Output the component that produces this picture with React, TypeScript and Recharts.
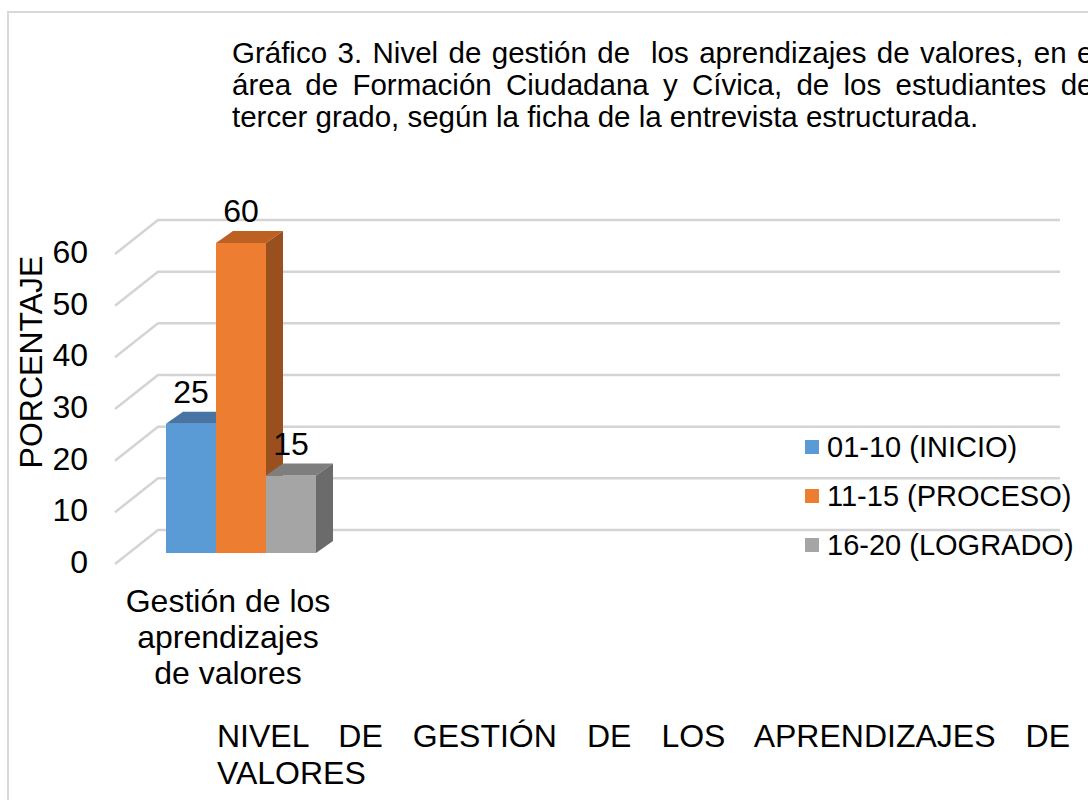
import React from "react";
import { BarChart, Bar, XAxis, YAxis, CartesianGrid, LabelList } from "recharts";

const categories = ["Gestión de los aprendizajes de valores"];
const categoryLines = [["Gestión de los", "aprendizajes", "de valores"]];
const inicioValues = [25];
const procesoValues = [60];
const logradoValues = [15];
const seriesKeys = ["inicio", "proceso", "logrado"];
const seriesNames = ["01-10 (INICIO)", "11-15 (PROCESO)", "16-20 (LOGRADO)"];
const frontColors = ["#5B9BD5", "#ED7D31", "#A5A5A5"];
const topColors = ["#4674A5", "#BC6121", "#7E7E7E"];
const sideColors = ["#3E6A96", "#9A4F1E", "#6B6B6B"];
const yTicks = [0, 10, 20, 30, 40, 50, 60];
const titleLines = [
  "Gráfico 3. Nivel de gestión de  los aprendizajes de valores, en el",
  "área de Formación Ciudadana y Cívica, de los estudiantes del",
  "tercer grado, según la ficha de la entrevista estructurada.",
];
const xTitleLines = ["NIVEL DE GESTIÓN DE LOS APRENDIZAJES DE", "VALORES"];
const yTitle = "PORCENTAJE";

const data = categories.map((name, i) => ({
  name,
  inicio: inicioValues[i],
  proceso: procesoValues[i],
  logrado: logradoValues[i],
}));

const FONT = "'Liberation Sans', Arial, sans-serif";
const DX = 17;
const DY = -12;
const WALL_RIGHT = 1060;
const BIG = 32;

function make3D(si: number) {
  return (props: any) => {
    const { x, y, width, height } = props;
    if (height == null || width == null) return <g />;
    return (
      <g>
        <rect x={x} y={y} width={width} height={height} fill={frontColors[si]} />
        <polygon
          points={`${x},${y} ${x + width},${y} ${x + width + DX},${y + DY} ${x + DX},${y + DY}`}
          fill={topColors[si]}
        />
        <polygon
          points={`${x + width},${y} ${x + width + DX},${y + DY} ${x + width + DX},${y + height + DY} ${x + width},${y + height}`}
          fill={sideColors[si]}
        />
      </g>
    );
  };
}

const GridLine = (props: any) => {
  const { x1, y1 } = props;
  const back = y1 - 23;
  const bx = x1 + 32;
  return (
    <g>
      <polyline
        points={`${x1 - 11},${back + 34} ${bx},${back} ${WALL_RIGHT},${back}`}
        fill="none"
        stroke="#D4D4D4"
        strokeWidth={2.5}
      />
    </g>
  );
};

const YTick = (props: any) => {
  const { x, y, payload } = props;
  return (
    <text x={x - 38} y={y + 20} textAnchor="end" fontSize={BIG} fontFamily={FONT} fill="#000">
      {payload.value}
    </text>
  );
};

const XTick = (props: any) => {
  const { x, y, index } = props;
  const lines = categoryLines[index] || [String(props.payload.value)];
  return (
    <g>
      {lines.map((l, i) => (
        <text
          key={i}
          x={x - 13}
          y={y + 59 + i * 36}
          textAnchor="middle"
          fontSize={BIG}
          fontFamily={FONT}
          fill="#000"
        >
          {l}
        </text>
      ))}
    </g>
  );
};

const ValueLabel = (props: any) => {
  const { x, y, width, value } = props;
  return (
    <text x={x + width / 2} y={y - 21} textAnchor="middle" fontSize={BIG} fontFamily={FONT} fill="#000">
      {value}
    </text>
  );
};

export default function App() {
  return (
    <div
      style={{
        position: "absolute",
        left: 0,
        top: 0,
        width: 1088,
        height: 800,
        overflow: "hidden",
        background: "#fff",
        fontFamily: FONT,
      }}
    >
      <div
        style={{
          position: "absolute",
          left: 7,
          top: 11,
          width: 1100,
          height: 800,
          borderTop: "2px solid #D9D9D9",
          borderLeft: "2px solid #D9D9D9",
        }}
      />
      <div style={{ position: "absolute", left: 0, top: 0 }}>
        <BarChart
          width={1088}
          height={800}
          data={data}
          margin={{ top: 243, right: 732, bottom: 217, left: 66 }}
          barGap={0}
          barSize={50}
        >
          <CartesianGrid vertical={false} horizontal={(p: any) => <GridLine key={p.key} {...p} />} />
          <XAxis
            dataKey="name"
            height={30}
            axisLine={false}
            tickLine={false}
            tickSize={0}
            tickMargin={0}
            tick={<XTick />}
            interval={0}
          />
          <YAxis
            width={60}
            domain={[0, 60]}
            ticks={yTicks}
            axisLine={false}
            tickLine={false}
            tickSize={0}
            tickMargin={0}
            tick={<YTick />}
            interval={0}
          />
          {seriesKeys.map((k, i) => (
            <Bar key={k} dataKey={k} name={seriesNames[i]} fill={frontColors[i]} shape={make3D(i)} isAnimationActive={false}>
              <LabelList dataKey={k} content={<ValueLabel />} />
            </Bar>
          ))}
        </BarChart>
      </div>
      <svg
        width={1088}
        height={800}
        style={{ position: "absolute", left: 0, top: 0, pointerEvents: "none" }}
      >
        <text
          transform="translate(42,362) rotate(-90)"
          textAnchor="middle"
          fontSize={BIG}
          fontFamily={FONT}
          fill="#000"
        >
          {yTitle}
        </text>
        {seriesNames.map((n, i) => {
          const cy = 447 + i * 49;
          return (
            <g key={n}>
              <rect x={805} y={cy - 7} width={14} height={14} fill={frontColors[i]} />
              <text x={827} y={cy + 10} fontSize={29} fontFamily={FONT} fill="#000">
                {n}
              </text>
            </g>
          );
        })}
      </svg>
      {titleLines.map((t, i) => (
        <div
          key={i}
          style={{
            position: "absolute",
            left: 232,
            top: 37 + i * 32,
            width: 868,
            fontSize: 29.5,
            lineHeight: "32px",
            color: "#000",
            whiteSpace: "pre-wrap",
            textAlign: i < titleLines.length - 1 ? "justify" : "left",
            textAlignLast: i < titleLines.length - 1 ? "justify" : "left",
          } as any}
        >
          {t}
        </div>
      ))}
      {xTitleLines.map((t, i) => (
        <div
          key={i}
          style={{
            position: "absolute",
            left: 217,
            top: 718 + i * 37,
            width: 853,
            fontSize: BIG,
            lineHeight: "37px",
            color: "#000",
            textAlign: i < xTitleLines.length - 1 ? "justify" : "left",
            textAlignLast: i < xTitleLines.length - 1 ? "justify" : "left",
          } as any}
        >
          {t}
        </div>
      ))}
    </div>
  );
}
